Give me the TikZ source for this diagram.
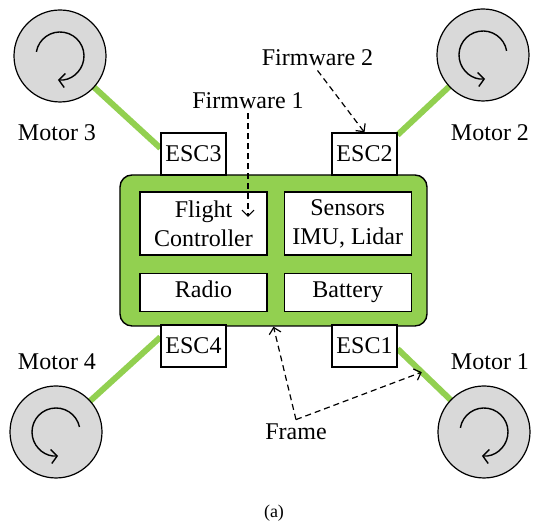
\documentclass[tikz,border=0pt]{standalone}
\usepackage{fontspec}
\setmainfont{Liberation Serif}
\usetikzlibrary{
    arrows.meta,    % For arrow tips
    positioning,    % For relative positioning of nodes (e.g., right=of)
    backgrounds     % For drawing the arms behind motors and ESCs
}
\definecolor{armgreen}{RGB}{146,208,80}
\definecolor{propgray}{RGB}{217,217,217}
\tikzset{
    % Style for the green frame plate
    frame/.style={
        draw,
        line width=0.7pt,
        rectangle,
        rounded corners=6pt,
        fill=armgreen,
        minimum width=153.5pt,
        minimum height=75.5pt
    },
    % Style for the parts mounted on the frame
    part/.style={
        draw,
        line width=0.6pt,
        rectangle,
        fill=white,
        align=center,
        minimum width=63.5pt,
        minimum height=19pt,
        inner sep=2pt,
        font=\fontsize{12}{14.5}\selectfont
    },
    % Style for the speed controllers
    esc/.style={
        draw,
        line width=0.6pt,
        rectangle,
        fill=white,
        minimum width=32.5pt,
        minimum height=21pt,
        inner sep=2pt,
        font=\fontsize{12}{14.5}\selectfont
    },
    % Style for the motors (propeller discs)
    motor/.style={
        draw,
        line width=0.6pt,
        circle,
        fill=propgray,
        minimum size=46pt,
        inner sep=0pt
    },
    % Style for plain texts
    txt/.style={
        inner sep=2pt,
        font=\fontsize{12}{14.5}\selectfont
    },
    % Style for the arms
    arm/.style={
        line width=3pt,
        draw=armgreen
    },
    % Style for the spin arrows
    spin/.style={
        line width=0.7pt,
        -{Straight Barb[length=3pt,width=7pt]}
    },
    % Style for the dashed pointers
    pointer/.style={
        line width=0.6pt,
        dash pattern=on 3pt off 2pt,
        -{Straight Barb[length=3pt,width=6pt]}
    }
}

\begin{document}
\begin{tikzpicture}[x=0.5pt, y=0.5pt]
    \useasboundingbox (0,0) rectangle (548,523);

    % --- Frame with the parts on it ---
    \node (frame)   [frame] at (273.5,272.5) {};
    \node (flight)  [part, minimum height=31.5pt] at (203.5,299.5) {Flight\\Controller};
    \node (sensors) [part, minimum height=31.5pt, right=8pt of flight] {Sensors\\IMU, Lidar};
    \node (radio)   [part, text height=0.8em, text depth=0.22em, below=8.5pt of flight] {Radio};
    \node (battery) [part, text height=0.8em, text depth=0.22em, right=8pt of radio] {Battery};

    % --- ESCs on the corners of the frame ---
    \node (esc3) [esc] at (193.5,369) {ESC3};
    \node (esc2) [esc] at (364.5,369) {ESC2};
    \node (esc4) [esc] at (193.5,177) {ESC4};
    \node (esc1) [esc] at (364.5,177) {ESC1};

    % --- Motors ---
    \node (motor3) [motor] at (60,467) {};
    \node (motor2) [motor] at (483,468) {};
    \node (motor4) [motor] at (56,91) {};
    \node (motor1) [motor] at (484,91) {};

    \node (motor3_label) [txt] at (57,390) {Motor 3};
    \node (motor2_label) [txt] at (490,390) {Motor 2};
    \node (motor4_label) [txt] at (57,161) {Motor 4};
    \node (motor1_label) [txt] at (490,161) {Motor 1};

    % Arms (behind motors and ESCs)
    \begin{scope}[on background layer]
        \draw [arm] (motor3.center) -- (esc3.170);
        \draw [arm] (motor2.center) -- (esc2.30);
        \draw [arm] (motor4.center) -- (esc4.165);
        \draw [arm] (motor1.center) -- (esc1.355);
    \end{scope}

    % Spin directions
    \draw [spin] ([shift={(170:12pt)}]motor3.center) arc[start angle=170, end angle=-95, radius=12pt];
    \draw [spin] ([shift={(10:12pt)}]motor2.center) arc[start angle=10, end angle=275, radius=12pt];
    \draw [spin] ([shift={(12:12pt)}]motor4.center) arc[start angle=12, end angle=275, radius=12pt];
    \draw [spin] ([shift={(170:12pt)}]motor1.center) arc[start angle=170, end angle=-95, radius=12pt];

    % --- Firmware pointers ---
    \node (fw2) [txt] at (317.5,465) {Firmware 2};
    \node (fw1) [txt] at (248,422) {Firmware 1};
    \coordinate (fw1_end) at (248,306);
    \draw [pointer] (fw2.south) -- (esc2.north);
    \draw [pointer] (fw1.south) -- (fw1_end);

    % --- Frame pointers ---
    \node (frame_label) [txt] at (296,91) {Frame};
    \path (motor1.center) -- (esc1.355) coordinate[pos=0.72] (frame_arm);
    \draw [pointer] (frame_label.north) -- (frame.south);
    \draw [pointer] (frame_label.north) -- (frame_arm);

    \node (sub_caption) [font=\fontsize{9}{10}\selectfont] at (274,10) {(a)};
\end{tikzpicture}
\end{document}
